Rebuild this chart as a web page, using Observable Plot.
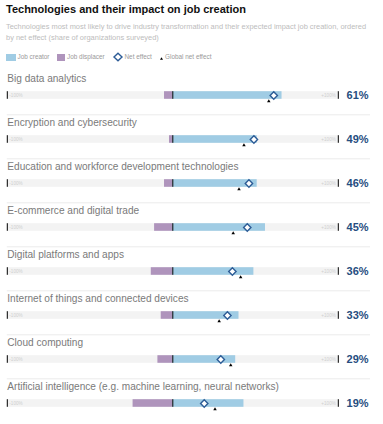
<!DOCTYPE html>
<html>
<head>
<meta charset="utf-8">
<script src="https://cdn.jsdelivr.net/npm/d3@7"></script>
<script src="https://cdn.jsdelivr.net/npm/@observablehq/plot@0.6"></script>
<style>
  html, body { margin: 0; padding: 0; background: #fff; }
  body { width: 383px; height: 424px; position: relative; overflow: hidden; font-family: "Liberation Sans", Arial, sans-serif; }
  .abs { position: absolute; white-space: nowrap; }
  #title { left: 6px; top: 2px; font-size: 11px; font-weight: bold; color: #111; line-height: 14px; }
  #subtitle { left: 6px; top: 20.5px; font-size: 7.45px; color: #bdbdbd; line-height: 11.7px; }
  .lg { font-size: 6.4px; color: #9a9a9a; line-height: 8px; top: 53px; }
  #chart { position: absolute; left: 0; top: 66px; }
</style>
</head>
<body>
<div id="title" class="abs">Technologies and their impact on job creation</div>
<div id="subtitle" class="abs">Technologies most most likely to drive industry transformation and their expected impact job creation, ordered<br>by net effect (share of organizations surveyed)</div>
<div class="abs" style="left:6px;top:53.5px;width:10px;height:7px;background:#a0cce4"></div>
<div class="abs lg" style="left:17.5px">Job creator</div>
<div class="abs" style="left:57px;top:53.5px;width:8px;height:7px;background:#af94bc"></div>
<div class="abs lg" style="left:67px">Job displacer</div>
<svg class="abs" style="left:112px;top:52px" width="12" height="10"><path d="M6,1.2 L10,5 L6,8.8 L2,5 Z" fill="#fff" stroke="#2d5c96" stroke-width="1.4"/></svg>
<div class="abs lg" style="left:124.5px">Net effect</div>
<svg class="abs" style="left:159px;top:53px" width="5" height="8"><path d="M2.5,4.2 L4,6.8 L1,6.8 Z" fill="#000"/></svg>
<div class="abs lg" style="left:165px">Global net effect</div>
<div id="chart"></div>
<script>
const categories = [
  "Big data analytics",
  "Encryption and cybersecurity",
  "Education and workforce development technologies",
  "E-commerce and digital trade",
  "Digital platforms and apps",
  "Internet of things and connected devices",
  "Cloud computing",
  "Artificial intelligence (e.g. machine learning, neural networks)"
];
const jobCreator   = [66, 51, 51, 56, 49, 40, 38, 43];
const jobDisplacer = [5, 2, 5, 11, 13, 7, 9, 24];
const netEffect    = [61, 49, 46, 45, 36, 33, 29, 19];
const globalNet    = [58, 43, 40, 36.5, 41, 28, 35, 25.5];

const rows = categories.map((c, i) => ({
  cat: c, creator: jobCreator[i], displacer: jobDisplacer[i],
  net: netEffect[i], global: globalNet[i], label: netEffect[i] + "%"
}));

const inset = 18.2;
const plot = Plot.plot({
  width: 383,
  height: 358,
  margin: 0,
  x: {domain: [-100, 100], range: [6.8, 337.8], axis: null},
  y: {type: "band", domain: categories, range: [5.8, 361.2], padding: 0, axis: null},
  style: {fontFamily: "'Liberation Sans', Arial, sans-serif"},
  marks: [
    Plot.ruleY(rows.slice(0, 7), {y: "cat", x1: () => -100, x2: () => 119.5, dy: 19.3, stroke: "#ebebeb", strokeWidth: 1}),
    Plot.barX(rows, {y: "cat", x1: () => -100, x2: () => 100, fill: "#f3f3f3", insetTop: inset, insetBottom: inset}),
    Plot.barX(rows, {y: "cat", x1: d => -d.displacer, x2: () => 0, fill: "#af94bc", insetTop: inset, insetBottom: inset}),
    Plot.barX(rows, {y: "cat", x1: () => 0, x2: "creator", fill: "#a0cce4", insetTop: inset, insetBottom: inset}),
    Plot.tickX(rows, {y: "cat", x: () => 0, stroke: "#000", strokeWidth: 1, insetTop: inset, insetBottom: inset}),
    Plot.tickX(rows, {y: "cat", x: () => -100, stroke: "#000", strokeWidth: 1, insetTop: inset, insetBottom: inset}),
    Plot.tickX(rows, {y: "cat", x: () => 100, stroke: "#000", strokeWidth: 1, insetTop: inset, insetBottom: inset}),
    Plot.text(rows, {y: "cat", x: () => -100, text: () => "-100%", textAnchor: "start", dx: 2, fontSize: 4.6, fill: "#cfcfcf"}),
    Plot.text(rows, {y: "cat", x: () => 100, text: () => "+100%", textAnchor: "end", dx: -2.5, fontSize: 4.6, fill: "#cfcfcf"}),
    Plot.dot(rows, {y: "cat", x: "global", symbol: "triangle", r: 1.3, fill: "#000", dy: 5.8}),
    Plot.dot(rows, {y: "cat", x: "net", symbol: "diamond2", r: 3.3, fill: "#fff", stroke: "#2d5c96", strokeWidth: 1.4}),
    Plot.text(rows, {y: "cat", x: () => -100, text: "cat", textAnchor: "start", dy: -16.5, fontSize: 10.1, fill: "#7a7a7a"}),
    Plot.text(rows, {y: "cat", x: () => 105, text: "label", textAnchor: "start", fontSize: 11, fontWeight: "bold", fill: "#264d80"})
  ]
});
document.getElementById("chart").appendChild(plot);
</script>
</body>
</html>
